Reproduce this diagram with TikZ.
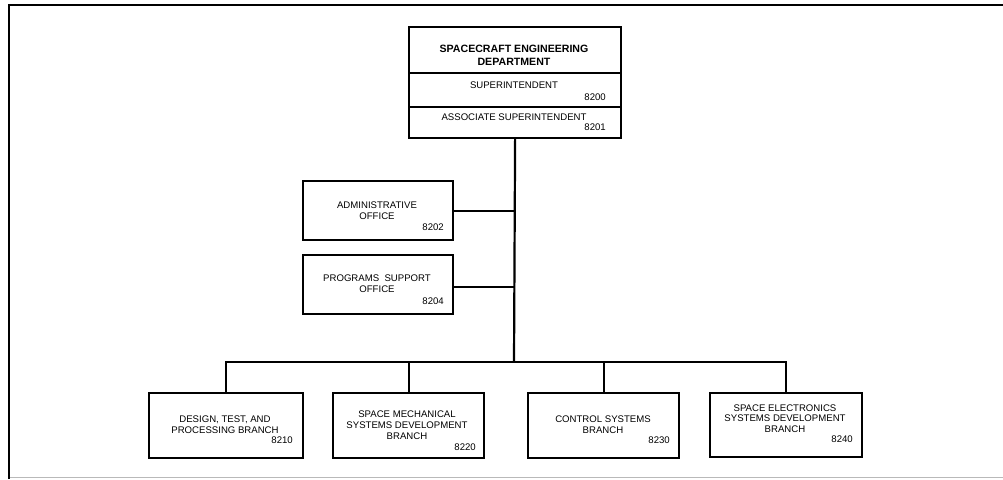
\documentclass[tikz,border=0pt]{standalone}
\usepackage{fontspec}
\setmainfont{Liberation Sans}
\begin{document}
\begin{tikzpicture}[x=1pt,y=-1pt,
  box/.style={draw,line width=2.2pt,rectangle,inner sep=0pt,anchor=north west},
  conn/.style={line width=2.2pt},
  txt/.style={inner sep=0pt,align=center,font=\fontsize{9.6}{10.8}\selectfont},
  num/.style={inner sep=0pt,anchor=east,font=\fontsize{9.6}{10.8}\selectfont},
  ttl/.style={inner sep=0pt,align=center,font=\fontsize{10.6}{12.8}\selectfont\bfseries}]
\useasboundingbox (0,0) rectangle (1003,479);
% frame
\draw[line width=2.6pt] (9,479) -- (9,5) -- (1003,5);
\draw[line width=1pt,gray!55] (10,477.5) -- (1003,477.5);
% top boxes
\node[box,minimum width=212pt,minimum height=46pt] (dept) at (408,26) {};
\node[box,minimum width=212pt,minimum height=34pt] (supt) at (408,72) {};
\node[box,minimum width=212pt,minimum height=31pt] (assoc) at (408,106) {};
\node[ttl] (deptt) at (514,55.5) {SPACECRAFT ENGINEERING\\DEPARTMENT};
\node[txt] (suptt) at (514,85) {SUPERINTENDENT};
\node[num] (suptn) at (606,97) {8200};
\node[txt] (assoct) at (514,117) {ASSOCIATE SUPERINTENDENT};
\node[num] (assocn) at (606,127.5) {8201};
% offices
\node[box,minimum width=150pt,minimum height=59pt] (admin) at (302,180) {};
\node[txt] (admint) at (377,210.5) {ADMINISTRATIVE\\OFFICE};
\node[num] (adminn) at (444,227) {8202};
\node[box,minimum width=150pt,minimum height=59pt] (prog) at (302,254) {};
\node[txt] (progt) at (377,284) {PROGRAMS\ \ SUPPORT\\OFFICE};
\node[num] (progn) at (444,301) {8204};
% branches
\node[box,minimum width=154pt,minimum height=65pt] (b1) at (148,392) {};
\node[txt] (b1t) at (225,424.5) {DESIGN, TEST, AND\\PROCESSING BRANCH};
\node[num] (b1n) at (293,440) {8210};
\node[box,minimum width=151pt,minimum height=65pt] (b2) at (332,392) {};
\node[txt] (b2t) at (407,425) {SPACE MECHANICAL\\SYSTEMS DEVELOPMENT\\BRANCH};
\node[num] (b2n) at (476,447) {8220};
\node[box,minimum width=151pt,minimum height=65pt] (b3) at (527,392) {};
\node[txt] (b3t) at (603,424.5) {CONTROL SYSTEMS\\BRANCH};
\node[num] (b3n) at (670,440) {8230};
\node[box,minimum width=152pt,minimum height=64pt] (b4) at (709,392) {};
\node[txt] (b4t) at (785,418.5) {SPACE ELECTRONICS\\SYSTEMS DEVELOPMENT\\BRANCH};
\node[num] (b4n) at (853,439) {8240};
% connectors
\coordinate (bus) at (514,362);
\draw[conn] (assoc.south) -- (bus);
\draw[conn] (admin.east) -- (admin.east -| bus);
\draw[conn] (prog.east |- 0,287) -- (bus |- 0,287);
\draw[conn] (b1.north) |- (bus);
\draw[conn] (b2.north) -- (b2.north |- bus);
\draw[conn] (b3.north) -- (b3.north |- bus);
\draw[conn] (b4.north) |- (bus);
\end{tikzpicture}
\end{document}
